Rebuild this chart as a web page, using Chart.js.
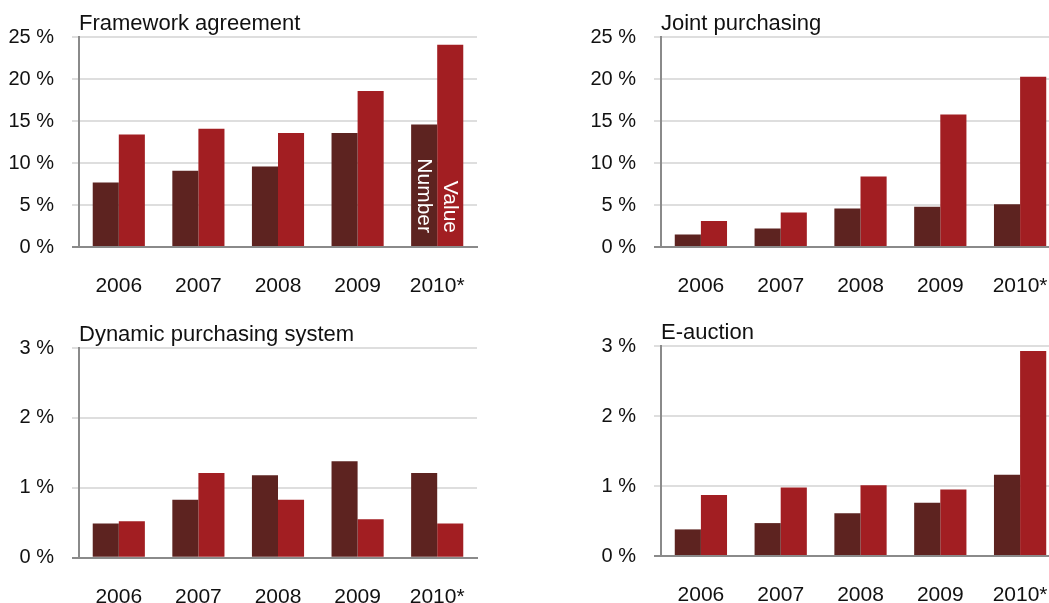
<!DOCTYPE html>
<html>
<head>
<meta charset="utf-8">
<script src="https://cdn.jsdelivr.net/npm/chart.js@4.4.1/dist/chart.umd.min.js"></script>
<style>
  html, body { margin: 0; padding: 0; background: #fff; overflow: hidden; }
  #page { position: relative; width: 1049px; height: 603px; overflow: hidden; }
  canvas { position: absolute; display: block; }
</style>
</head>
<body>
<div id="page">
  <canvas id="c1" width="490" height="300" style="left:0;top:0;width:490px;height:300px"></canvas>
  <canvas id="c2" width="530" height="300" style="left:530px;top:0;width:530px;height:300px"></canvas>
  <canvas id="c3" width="490" height="303" style="left:0;top:300px;width:490px;height:303px"></canvas>
  <canvas id="c4" width="530" height="303" style="left:530px;top:300px;width:530px;height:303px"></canvas>
</div>
<script>
// Shares of procedures by technique, in percent: "Number" vs "Value"
const years = ['2006', '2007', '2008', '2009', '2010*'];

const frameworkNumber = [7.7, 9.1, 9.6, 13.6, 14.6];
const frameworkValue  = [13.4, 14.1, 13.6, 18.6, 24.1];

const jointNumber = [1.5, 2.2, 4.6, 4.8, 5.1];
const jointValue  = [3.1, 4.1, 8.4, 15.8, 20.3];

const dpsNumber = [0.49, 0.83, 1.18, 1.38, 1.21];
const dpsValue  = [0.52, 1.21, 0.83, 0.55, 0.49];

const eauctionNumber = [0.38, 0.47, 0.61, 0.76, 1.16];
const eauctionValue  = [0.87, 0.98, 1.01, 0.95, 2.93];

const seriesNames = ['Number', 'Value'];

const FONT = '"Liberation Sans", Arial, sans-serif';
const DARK = '#5d2320';
const RED = '#a21e22';
const AXIS = '#8a8a8a';
const GRID = '#dedede';

// Panel title, drawn just above the plot area at its left edge
const panelTitle = {
  id: 'panelTitle',
  afterDraw(chart, args, opts) {
    const { ctx, chartArea } = chart;
    ctx.save();
    ctx.font = '22px ' + FONT;
    ctx.fillStyle = '#111';
    ctx.textAlign = 'left';
    ctx.textBaseline = 'alphabetic';
    ctx.fillText(opts.text, chartArea.left, chartArea.top - 7);
    ctx.restore();
  }
};

// Series names written vertically inside the last pair of bars
const seriesInBar = {
  id: 'seriesInBar',
  afterDatasetsDraw(chart, args, opts) {
    if (!opts.show) return;
    const { ctx } = chart;
    const zeroY = chart.scales.y.getPixelForValue(0);
    ctx.save();
    ctx.font = '21px ' + FONT;
    ctx.fillStyle = '#ffffff';
    chart.data.datasets.forEach((ds, i) => {
      const meta = chart.getDatasetMeta(i);
      const bar = meta.data[meta.data.length - 1];
      ctx.save();
      ctx.translate(bar.x, zeroY - 14);
      ctx.rotate(Math.PI / 2);
      ctx.textAlign = 'right';
      ctx.textBaseline = 'middle';
      ctx.fillText(ds.label, 0, 0);
      ctx.restore();
    });
    ctx.restore();
  }
};

function makePanel(canvasId, cfg) {
  const canvas = document.getElementById(canvasId);
  const W = canvas.width, H = canvas.height;
  new Chart(canvas, {
    type: 'bar',
    data: {
      labels: years,
      datasets: [
        { label: seriesNames[0], data: cfg.number, backgroundColor: DARK, borderWidth: 0 },
        { label: seriesNames[1], data: cfg.value, backgroundColor: RED, borderWidth: 0 }
      ]
    },
    options: {
      responsive: false,
      devicePixelRatio: 1,
      animation: false,
      events: [],
      categoryPercentage: 0.655,
      barPercentage: 1.0,
      layout: { padding: { top: cfg.top, right: W - cfg.right, left: 0, bottom: 0 } },
      plugins: {
        legend: { display: false },
        tooltip: { enabled: false },
        panelTitle: { text: cfg.title },
        seriesInBar: { show: !!cfg.inBar }
      },
      scales: {
        x: {
          // invisible tick marks keep the year labels well below the axis line
          grid: { display: true, drawOnChartArea: false, drawTicks: true, tickLength: 27, color: 'rgba(0,0,0,0)' },
          border: { display: true, color: AXIS, width: 2 },
          ticks: { color: '#111', font: { family: FONT, size: 21 }, padding: 0, maxRotation: 0, autoSkip: false },
          afterFit(scale) { scale.height = H - cfg.bottom; }
        },
        y: {
          min: 0,
          max: cfg.max,
          ticks: {
            stepSize: cfg.step,
            color: '#111',
            font: { family: FONT, size: 20 },
            padding: 18,
            callback: v => v + ' %'
          },
          grid: {
            color: c => (c.tick && c.tick.value === 0) ? AXIS : GRID,
            lineWidth: 2,
            tickLength: 7,
            drawTicks: true
          },
          border: { display: true, color: AXIS, width: 2 },
          afterFit(scale) { scale.width = cfg.left; }
        }
      }
    },
    plugins: [panelTitle, seriesInBar]
  });
}

makePanel('c1', { title: 'Framework agreement', number: frameworkNumber, value: frameworkValue,
  max: 25, step: 5, left: 79, top: 37.3, right: 477, bottom: 247, inBar: true });
makePanel('c2', { title: 'Joint purchasing', number: jointNumber, value: jointValue,
  max: 25, step: 5, left: 131, top: 37.3, right: 530, bottom: 247 });
makePanel('c3', { title: 'Dynamic purchasing system', number: dpsNumber, value: dpsValue,
  max: 3, step: 1, left: 79, top: 48, right: 477, bottom: 257.7 });
makePanel('c4', { title: 'E-auction', number: eauctionNumber, value: eauctionValue,
  max: 3, step: 1, left: 131, top: 46, right: 530, bottom: 256 });
</script>
</body>
</html>
